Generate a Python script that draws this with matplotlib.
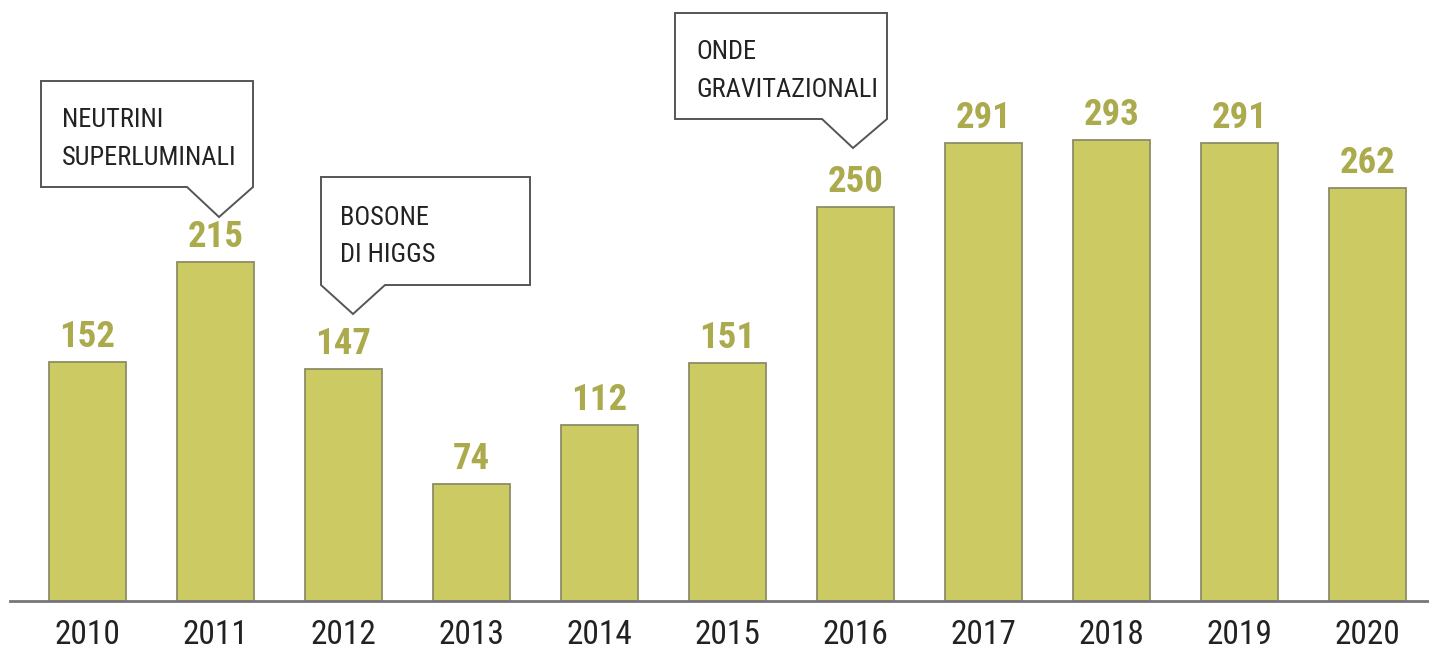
import matplotlib
matplotlib.use("Agg")
import matplotlib.pyplot as plt
from matplotlib.patches import Polygon

years = ["2010", "2011", "2012", "2013", "2014", "2015", "2016", "2017", "2018", "2019", "2020"]
values = [152, 215, 147, 74, 112, 151, 250, 291, 293, 291, 262]
callout_texts = ["NEUTRINI\nSUPERLUMINALI", "BOSONE\nDI HIGGS", "ONDE\nGRAVITAZIONALI"]

plt.rcParams['font.family'] = ['Roboto Condensed', 'Liberation Sans', 'DejaVu Sans']

W, H = 1429, 652
fig = plt.figure(figsize=(W / 100, H / 100), dpi=100)
base_px = 601
ax = fig.add_axes([0, (H - base_px) / H, 1, base_px / H])
ppu = 1.575
ax.set_ylim(0, base_px / ppu)
x0 = -87.5 / 128
ax.set_xlim(x0, x0 + W / 128)

x = list(range(len(years)))
ax.bar(x, values, width=0.6, color="#CCCA62", edgecolor="#8C8C66", linewidth=1.3, zorder=2)

for xi, v in zip(x, values):
    ax.text(xi, v + 15 / ppu, str(v), ha="center", va="baseline", fontsize=26.5,
            fontweight="bold", color="#ABAA4C")

for s in ["top", "right", "left", "bottom"]:
    ax.spines[s].set_visible(False)
ax.set_yticks([])
ax.set_xticks(x)
ax.set_xticklabels(years, fontsize=24, color="#222222")
ax.tick_params(axis="x", length=0, pad=13)

# baseline rule
ax.plot([(10 / 128) + x0, x0 + W / 128], [0, 0], color="#777777", lw=2, clip_on=False, zorder=3)

def px2d(px, py):
    return ((px - 87.5) / 128, (base_px - py) / ppu)

callouts = [
    ([(41, 81), (253, 81), (253, 187), (219, 217), (187, 187), (41, 187)], 62, [127, 165]),
    ([(321, 177), (530, 177), (530, 285), (385, 285), (353, 314), (321, 285)], 340, [225, 262]),
    ([(675, 13), (887, 13), (887, 119), (853, 148), (822, 119), (675, 119)], 696, [59, 97]),
]
for (poly, tx, bls), txt in zip(callouts, callout_texts):
    pts = [px2d(*p) for p in poly]
    ax.add_patch(Polygon(pts, closed=True, facecolor="white", edgecolor="#555555",
                         linewidth=1.4, zorder=4, clip_on=False))
    for line, bl in zip(txt.split("\n"), bls):
        xd, yd = px2d(tx, bl)
        ax.text(xd, yd, line, ha="left", va="baseline", fontsize=19, color="#222222", zorder=5)

fig.savefig("out.png", dpi=100)
